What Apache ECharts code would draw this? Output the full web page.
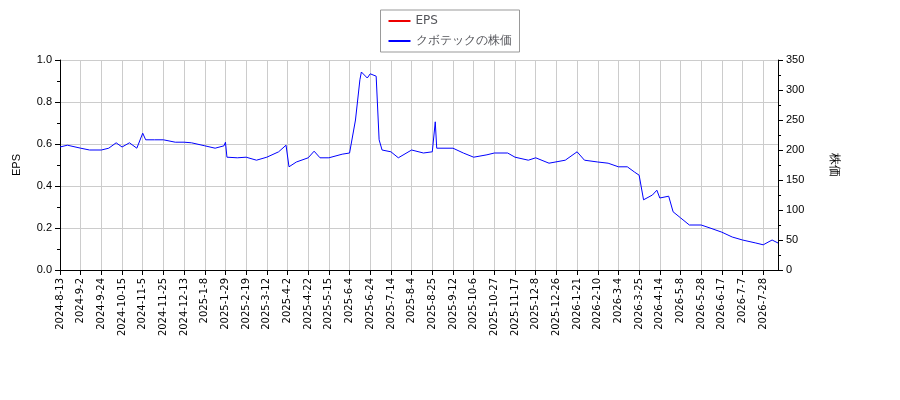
<!DOCTYPE html>
<html><head><meta charset="utf-8">
<script src="https://cdn.jsdelivr.net/npm/echarts@6/dist/echarts.min.js"></script>
<style>html,body{margin:0;padding:0;background:#fff}#c{width:900px;height:400px}</style>
</head><body><div id="c"></div>
<script>
const startDate = '2024-08-13', endDate = '2026-08-11';
const holidays = ['2024-09-16','2024-09-23','2024-10-14','2024-11-04','2024-12-31','2025-01-01','2025-01-02','2025-01-03','2025-01-13','2025-02-11','2025-02-24','2025-03-20','2025-04-29','2025-05-05','2025-05-06','2025-07-21','2025-08-11','2025-09-15','2025-09-23','2025-10-13','2025-11-03','2025-11-24','2025-12-31','2026-01-01','2026-01-02','2026-01-12','2026-02-11','2026-02-23','2026-03-20','2026-04-29','2026-05-04','2026-05-05','2026-05-06','2026-07-20'];
const priceDates = ['2024-08-13','2024-08-20','2024-09-02','2024-09-10','2024-09-24','2024-10-01','2024-10-08','2024-10-15','2024-10-22','2024-10-29','2024-11-05','2024-11-07','2024-11-15','2024-11-25','2024-12-05','2024-12-13','2024-12-20','2025-01-08','2025-01-20','2025-01-28','2025-01-29','2025-01-30','2025-02-10','2025-02-19','2025-03-03','2025-03-12','2025-03-25','2025-04-01','2025-04-03','2025-04-10','2025-04-22','2025-04-28','2025-05-07','2025-05-15','2025-05-28','2025-06-04','2025-06-10','2025-06-13','2025-06-16','2025-06-20','2025-06-24','2025-06-30','2025-07-02','2025-07-04','2025-07-14','2025-07-22','2025-08-04','2025-08-15','2025-08-25','2025-08-27','2025-08-28','2025-09-12','2025-09-25','2025-10-06','2025-10-20','2025-10-27','2025-11-10','2025-11-17','2025-12-01','2025-12-08','2025-12-19','2026-01-08','2026-01-21','2026-01-28','2026-02-10','2026-02-20','2026-03-04','2026-03-12','2026-03-19','2026-03-25','2026-03-30','2026-04-07','2026-04-10','2026-04-14','2026-04-22','2026-04-27','2026-05-08','2026-05-18','2026-05-28','2026-06-05','2026-06-17','2026-06-26','2026-07-07','2026-07-21','2026-07-28','2026-08-05','2026-08-11'];
const priceValues = [205,208,203,200,200,203,212,205,212,203,228,217,217,217,213,213,212,207,203,207,213,188,187,188,183,188,197,208,172,180,187,198,187,187,193,195,250,317,330,320,327,323,217,200,197,187,200,195,197,247,203,203,195,188,192,195,195,188,183,187,178,183,197,183,180,178,172,172,163,158,117,125,133,120,123,97,87,75,75,70,63,55,50,45,42,50,45];
const epsValues = [];
const leftTicks = {min:0,max:1.0,interval:0.2};
const rightTicks = {min:0,max:350,interval:50};

function fmt(d){return d.getUTCFullYear()+'-'+(d.getUTCMonth()+1)+'-'+d.getUTCDate();}
function iso(d){return d.toISOString().slice(0,10);}
const cats=[], isoCats=[];
for(let d=new Date(startDate+'T00:00:00Z'); d<=new Date(endDate+'T00:00:00Z'); d.setUTCDate(d.getUTCDate()+1)){
  const w=d.getUTCDay(); if(w===0||w===6) continue;
  if(holidays.includes(iso(d))) continue;
  cats.push(fmt(d)); isoCats.push(iso(d));
}
const priceData = priceDates.map((p,i)=>{
  let k=isoCats.findIndex(c=>c>=p); if(k<0)k=isoCats.length-1;
  return [cats[k], priceValues[i]];
});
const chart=echarts.init(document.getElementById('c'));
const axisStyle={lineStyle:{color:'#000'}};
chart.setOption({
  animation:false,
  legend:{top:10,left:'center',orient:'vertical',borderColor:'#999',borderWidth:1,borderRadius:0,padding:[5,8],itemWidth:22,itemHeight:2,textStyle:{fontFamily:'DejaVu Sans',fontSize:12},
    data:[{name:'EPS',icon:'rect'},{name:'クボテックの株価',icon:'rect'}]},
  grid:{left:60,right:122,top:60,bottom:130},
  xAxis:{type:'category',data:cats,boundaryGap:false,axisLine:axisStyle,axisTick:{interval:13,lineStyle:{color:'#000'}},
    axisLabel:{interval:13,rotate:90,fontSize:10,color:'#000',fontFamily:'DejaVu Sans'},
    splitLine:{show:true,interval:13,lineStyle:{color:'#ccc'}}},
  yAxis:[
    {type:'value',...leftTicks,name:'EPS',nameLocation:'middle',nameGap:38,nameRotate:90,nameTextStyle:{fontSize:11,color:'#000'},
     axisLine:{show:true,...axisStyle},axisTick:{show:true},axisLabel:{color:'#000',fontSize:11,formatter:v=>v.toFixed(1)},
     splitLine:{lineStyle:{color:'#ccc'}},minorTick:{show:true,splitNumber:2}},
    {type:'value',...rightTicks,name:'株価',nameLocation:'middle',nameGap:50,nameRotate:-90,nameTextStyle:{fontSize:12,color:'#000'},
     axisLine:{show:true,...axisStyle},axisTick:{show:true},axisLabel:{color:'#000',fontSize:11},splitLine:{show:false},minorTick:{show:true,splitNumber:2}}
  ],
  series:[
    {name:'EPS',type:'line',yAxisIndex:0,data:epsValues,itemStyle:{color:'#e00'},lineStyle:{color:'#e00'}},
    {name:'クボテックの株価',type:'line',yAxisIndex:1,data:priceData,showSymbol:false,itemStyle:{color:'#00f'},lineStyle:{color:'#00f',width:1}}
  ]
});
</script></body></html>
